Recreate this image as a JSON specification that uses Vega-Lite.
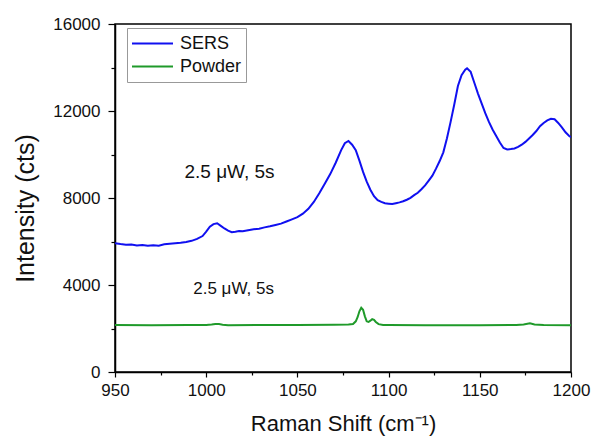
{
  "$schema": "https://vega.github.io/schema/vega-lite/v6.json",
  "width": 456,
  "height": 348,
  "autosize": {"type": "none"},
  "padding": {"left": 115, "top": 24, "right": 24, "bottom": 71},
  "background": "white",
  "config": {
    "font": "Liberation Sans",
    "view": {"stroke": "black", "strokeWidth": 1.5},
    "axis": {
      "domainColor": "black",
      "domainWidth": 1.5,
      "tickColor": "black",
      "tickWidth": 1.2,
      "labelColor": "#111",
      "titleColor": "#111",
      "labelFont": "Liberation Sans",
      "titleFont": "Liberation Sans",
      "labelFontSize": 17,
      "titleFontWeight": "normal",
      "grid": false
    }
  },
  "datasets": {
    "spectra": [
      {"shift": 950, "intensity": 5920, "series": "SERS"},
      {"shift": 953, "intensity": 5880, "series": "SERS"},
      {"shift": 956, "intensity": 5850, "series": "SERS"},
      {"shift": 959, "intensity": 5860, "series": "SERS"},
      {"shift": 962, "intensity": 5820, "series": "SERS"},
      {"shift": 965, "intensity": 5840, "series": "SERS"},
      {"shift": 968, "intensity": 5800, "series": "SERS"},
      {"shift": 971, "intensity": 5830, "series": "SERS"},
      {"shift": 974, "intensity": 5810, "series": "SERS"},
      {"shift": 977, "intensity": 5870, "series": "SERS"},
      {"shift": 980, "intensity": 5900, "series": "SERS"},
      {"shift": 983, "intensity": 5920, "series": "SERS"},
      {"shift": 986, "intensity": 5940, "series": "SERS"},
      {"shift": 989, "intensity": 5980, "series": "SERS"},
      {"shift": 992, "intensity": 6030, "series": "SERS"},
      {"shift": 995, "intensity": 6120, "series": "SERS"},
      {"shift": 998, "intensity": 6250, "series": "SERS"},
      {"shift": 1000, "intensity": 6450, "series": "SERS"},
      {"shift": 1002, "intensity": 6680, "series": "SERS"},
      {"shift": 1004, "intensity": 6800, "series": "SERS"},
      {"shift": 1006, "intensity": 6840, "series": "SERS"},
      {"shift": 1008, "intensity": 6720, "series": "SERS"},
      {"shift": 1010, "intensity": 6600, "series": "SERS"},
      {"shift": 1012, "intensity": 6500, "series": "SERS"},
      {"shift": 1014, "intensity": 6430, "series": "SERS"},
      {"shift": 1016, "intensity": 6450, "series": "SERS"},
      {"shift": 1018, "intensity": 6480, "series": "SERS"},
      {"shift": 1020, "intensity": 6470, "series": "SERS"},
      {"shift": 1023, "intensity": 6520, "series": "SERS"},
      {"shift": 1026, "intensity": 6560, "series": "SERS"},
      {"shift": 1029, "intensity": 6590, "series": "SERS"},
      {"shift": 1032, "intensity": 6650, "series": "SERS"},
      {"shift": 1035, "intensity": 6700, "series": "SERS"},
      {"shift": 1038, "intensity": 6760, "series": "SERS"},
      {"shift": 1041, "intensity": 6820, "series": "SERS"},
      {"shift": 1044, "intensity": 6920, "series": "SERS"},
      {"shift": 1047, "intensity": 7020, "series": "SERS"},
      {"shift": 1050, "intensity": 7120, "series": "SERS"},
      {"shift": 1053, "intensity": 7280, "series": "SERS"},
      {"shift": 1056, "intensity": 7500, "series": "SERS"},
      {"shift": 1059, "intensity": 7820, "series": "SERS"},
      {"shift": 1062, "intensity": 8220, "series": "SERS"},
      {"shift": 1065, "intensity": 8650, "series": "SERS"},
      {"shift": 1068, "intensity": 9100, "series": "SERS"},
      {"shift": 1071, "intensity": 9620, "series": "SERS"},
      {"shift": 1074, "intensity": 10200, "series": "SERS"},
      {"shift": 1076, "intensity": 10520, "series": "SERS"},
      {"shift": 1078, "intensity": 10620, "series": "SERS"},
      {"shift": 1080, "intensity": 10450, "series": "SERS"},
      {"shift": 1082, "intensity": 10200, "series": "SERS"},
      {"shift": 1084, "intensity": 9720, "series": "SERS"},
      {"shift": 1086, "intensity": 9200, "series": "SERS"},
      {"shift": 1088, "intensity": 8750, "series": "SERS"},
      {"shift": 1090, "intensity": 8380, "series": "SERS"},
      {"shift": 1092, "intensity": 8080, "series": "SERS"},
      {"shift": 1094, "intensity": 7900, "series": "SERS"},
      {"shift": 1096, "intensity": 7820, "series": "SERS"},
      {"shift": 1098, "intensity": 7760, "series": "SERS"},
      {"shift": 1100, "intensity": 7740, "series": "SERS"},
      {"shift": 1102, "intensity": 7720, "series": "SERS"},
      {"shift": 1104, "intensity": 7760, "series": "SERS"},
      {"shift": 1106, "intensity": 7800, "series": "SERS"},
      {"shift": 1108, "intensity": 7850, "series": "SERS"},
      {"shift": 1110, "intensity": 7920, "series": "SERS"},
      {"shift": 1112, "intensity": 8010, "series": "SERS"},
      {"shift": 1114, "intensity": 8130, "series": "SERS"},
      {"shift": 1116, "intensity": 8240, "series": "SERS"},
      {"shift": 1118, "intensity": 8400, "series": "SERS"},
      {"shift": 1120, "intensity": 8580, "series": "SERS"},
      {"shift": 1122, "intensity": 8800, "series": "SERS"},
      {"shift": 1124, "intensity": 9030, "series": "SERS"},
      {"shift": 1126, "intensity": 9350, "series": "SERS"},
      {"shift": 1128, "intensity": 9700, "series": "SERS"},
      {"shift": 1130, "intensity": 10100, "series": "SERS"},
      {"shift": 1132, "intensity": 10750, "series": "SERS"},
      {"shift": 1134, "intensity": 11500, "series": "SERS"},
      {"shift": 1136, "intensity": 12300, "series": "SERS"},
      {"shift": 1138, "intensity": 13150, "series": "SERS"},
      {"shift": 1140, "intensity": 13650, "series": "SERS"},
      {"shift": 1142, "intensity": 13900, "series": "SERS"},
      {"shift": 1143, "intensity": 13960, "series": "SERS"},
      {"shift": 1145, "intensity": 13800, "series": "SERS"},
      {"shift": 1147, "intensity": 13300, "series": "SERS"},
      {"shift": 1149, "intensity": 12800, "series": "SERS"},
      {"shift": 1151, "intensity": 12350, "series": "SERS"},
      {"shift": 1153, "intensity": 11900, "series": "SERS"},
      {"shift": 1155, "intensity": 11500, "series": "SERS"},
      {"shift": 1157, "intensity": 11150, "series": "SERS"},
      {"shift": 1159, "intensity": 10850, "series": "SERS"},
      {"shift": 1161, "intensity": 10550, "series": "SERS"},
      {"shift": 1163, "intensity": 10300, "series": "SERS"},
      {"shift": 1165, "intensity": 10230, "series": "SERS"},
      {"shift": 1167, "intensity": 10250, "series": "SERS"},
      {"shift": 1169, "intensity": 10280, "series": "SERS"},
      {"shift": 1171, "intensity": 10350, "series": "SERS"},
      {"shift": 1173, "intensity": 10450, "series": "SERS"},
      {"shift": 1175, "intensity": 10580, "series": "SERS"},
      {"shift": 1177, "intensity": 10740, "series": "SERS"},
      {"shift": 1179, "intensity": 10900, "series": "SERS"},
      {"shift": 1181, "intensity": 11080, "series": "SERS"},
      {"shift": 1183, "intensity": 11300, "series": "SERS"},
      {"shift": 1185, "intensity": 11450, "series": "SERS"},
      {"shift": 1187, "intensity": 11570, "series": "SERS"},
      {"shift": 1189, "intensity": 11640, "series": "SERS"},
      {"shift": 1191, "intensity": 11620, "series": "SERS"},
      {"shift": 1193, "intensity": 11450, "series": "SERS"},
      {"shift": 1195, "intensity": 11250, "series": "SERS"},
      {"shift": 1197, "intensity": 11020, "series": "SERS"},
      {"shift": 1199, "intensity": 10850, "series": "SERS"},
      {"shift": 1200, "intensity": 10800, "series": "SERS"},
      {"shift": 950, "intensity": 2160, "series": "Powder"},
      {"shift": 970, "intensity": 2150, "series": "Powder"},
      {"shift": 990, "intensity": 2160, "series": "Powder"},
      {"shift": 1000, "intensity": 2165, "series": "Powder"},
      {"shift": 1003, "intensity": 2180, "series": "Powder"},
      {"shift": 1005, "intensity": 2205, "series": "Powder"},
      {"shift": 1007, "intensity": 2205, "series": "Powder"},
      {"shift": 1009, "intensity": 2175, "series": "Powder"},
      {"shift": 1012, "intensity": 2150, "series": "Powder"},
      {"shift": 1030, "intensity": 2160, "series": "Powder"},
      {"shift": 1050, "intensity": 2160, "series": "Powder"},
      {"shift": 1070, "intensity": 2170, "series": "Powder"},
      {"shift": 1078, "intensity": 2185, "series": "Powder"},
      {"shift": 1080.5, "intensity": 2210, "series": "Powder"},
      {"shift": 1082, "intensity": 2330, "series": "Powder"},
      {"shift": 1083, "intensity": 2520, "series": "Powder"},
      {"shift": 1084, "intensity": 2790, "series": "Powder"},
      {"shift": 1085, "intensity": 2950, "series": "Powder"},
      {"shift": 1086, "intensity": 2860, "series": "Powder"},
      {"shift": 1087, "intensity": 2560, "series": "Powder"},
      {"shift": 1088, "intensity": 2330, "series": "Powder"},
      {"shift": 1089, "intensity": 2300, "series": "Powder"},
      {"shift": 1090, "intensity": 2360, "series": "Powder"},
      {"shift": 1091, "intensity": 2430, "series": "Powder"},
      {"shift": 1092, "intensity": 2400, "series": "Powder"},
      {"shift": 1093, "intensity": 2300, "series": "Powder"},
      {"shift": 1094.5, "intensity": 2200, "series": "Powder"},
      {"shift": 1097, "intensity": 2160, "series": "Powder"},
      {"shift": 1100, "intensity": 2160, "series": "Powder"},
      {"shift": 1120, "intensity": 2155, "series": "Powder"},
      {"shift": 1150, "intensity": 2150, "series": "Powder"},
      {"shift": 1170, "intensity": 2160, "series": "Powder"},
      {"shift": 1174, "intensity": 2180, "series": "Powder"},
      {"shift": 1177.5, "intensity": 2235, "series": "Powder"},
      {"shift": 1180, "intensity": 2180, "series": "Powder"},
      {"shift": 1185, "intensity": 2160, "series": "Powder"},
      {"shift": 1200, "intensity": 2155, "series": "Powder"}
    ],
    "notes": [
      {"shift": 1012.8, "intensity": 9195, "label": "2.5 μW, 5s", "sample": "SERS"},
      {"shift": 1015, "intensity": 3816, "label": "2.5 μW, 5s", "sample": "Powder"}
    ]
  },
  "layer": [
    {
      "data": {"name": "spectra"},
      "mark": {"type": "line", "strokeWidth": 2, "clip": true},
      "encoding": {
        "x": {
          "field": "shift", "type": "quantitative",
          "scale": {"domain": [950, 1200], "nice": false, "zero": false},
          "axis": {
            "title": "Raman Shift (cm⁻¹)",
            "titleFontSize": 22,
            "values": [950, 975, 1000, 1025, 1050, 1075, 1100, 1125, 1150, 1175, 1200],
            "labelExpr": "datum.value % 50 === 0 ? datum.label : ''",
            "format": "d",
            "tickSize": {"condition": {"test": "datum.value % 50 === 0", "value": 5}, "value": 3},
            "labelPadding": 5,
            "titlePadding": 15,
            "labelFlush": false,
            "labelOverlap": false
          }
        },
        "y": {
          "field": "intensity", "type": "quantitative",
          "scale": {"domain": [0, 16000], "nice": false},
          "axis": {
            "title": "Intensity (cts)",
            "titleFontSize": 25,
            "titleY": 184,
            "values": [0, 2000, 4000, 6000, 8000, 10000, 12000, 14000, 16000],
            "labelExpr": "datum.value % 4000 === 0 ? format(datum.value, 'd') : ''",
            "tickSize": {"condition": {"test": "datum.value % 4000 === 0", "value": 7}, "value": 4},
            "labelPadding": 8,
            "titlePadding": 14,
            "labelFlush": false,
            "labelOverlap": false
          }
        },
        "color": {
          "field": "series", "type": "nominal",
          "scale": {"domain": ["SERS", "Powder"], "range": ["#1010f0", "#1f9a2a"]},
          "legend": {
            "title": null,
            "orient": "none",
            "legendX": 12,
            "legendY": 4,
            "symbolType": "stroke",
            "symbolSize": 1681,
            "symbolStrokeWidth": 2,
            "clipHeight": 23,
            "labelFontSize": 18,
            "labelFont": "Liberation Sans",
            "labelColor": "#111",
            "labelOffset": 6,
            "strokeColor": "#999",
            "fillColor": "white",
            "padding": 4,
            "rowPadding": 0
          }
        }
      }
    },
    {
      "data": {"name": "notes"},
      "transform": [{"filter": "datum.sample === 'SERS'"}],
      "mark": {"type": "text", "fontSize": 19, "font": "Liberation Sans", "color": "#111", "align": "center", "baseline": "middle"},
      "encoding": {
        "x": {"field": "shift", "type": "quantitative"},
        "y": {"field": "intensity", "type": "quantitative"},
        "text": {"field": "label"}
      }
    },
    {
      "data": {"name": "notes"},
      "transform": [{"filter": "datum.sample === 'Powder'"}],
      "mark": {"type": "text", "fontSize": 17, "font": "Liberation Sans", "color": "#111", "align": "center", "baseline": "middle"},
      "encoding": {
        "x": {"field": "shift", "type": "quantitative"},
        "y": {"field": "intensity", "type": "quantitative"},
        "text": {"field": "label"}
      }
    }
  ]
}
